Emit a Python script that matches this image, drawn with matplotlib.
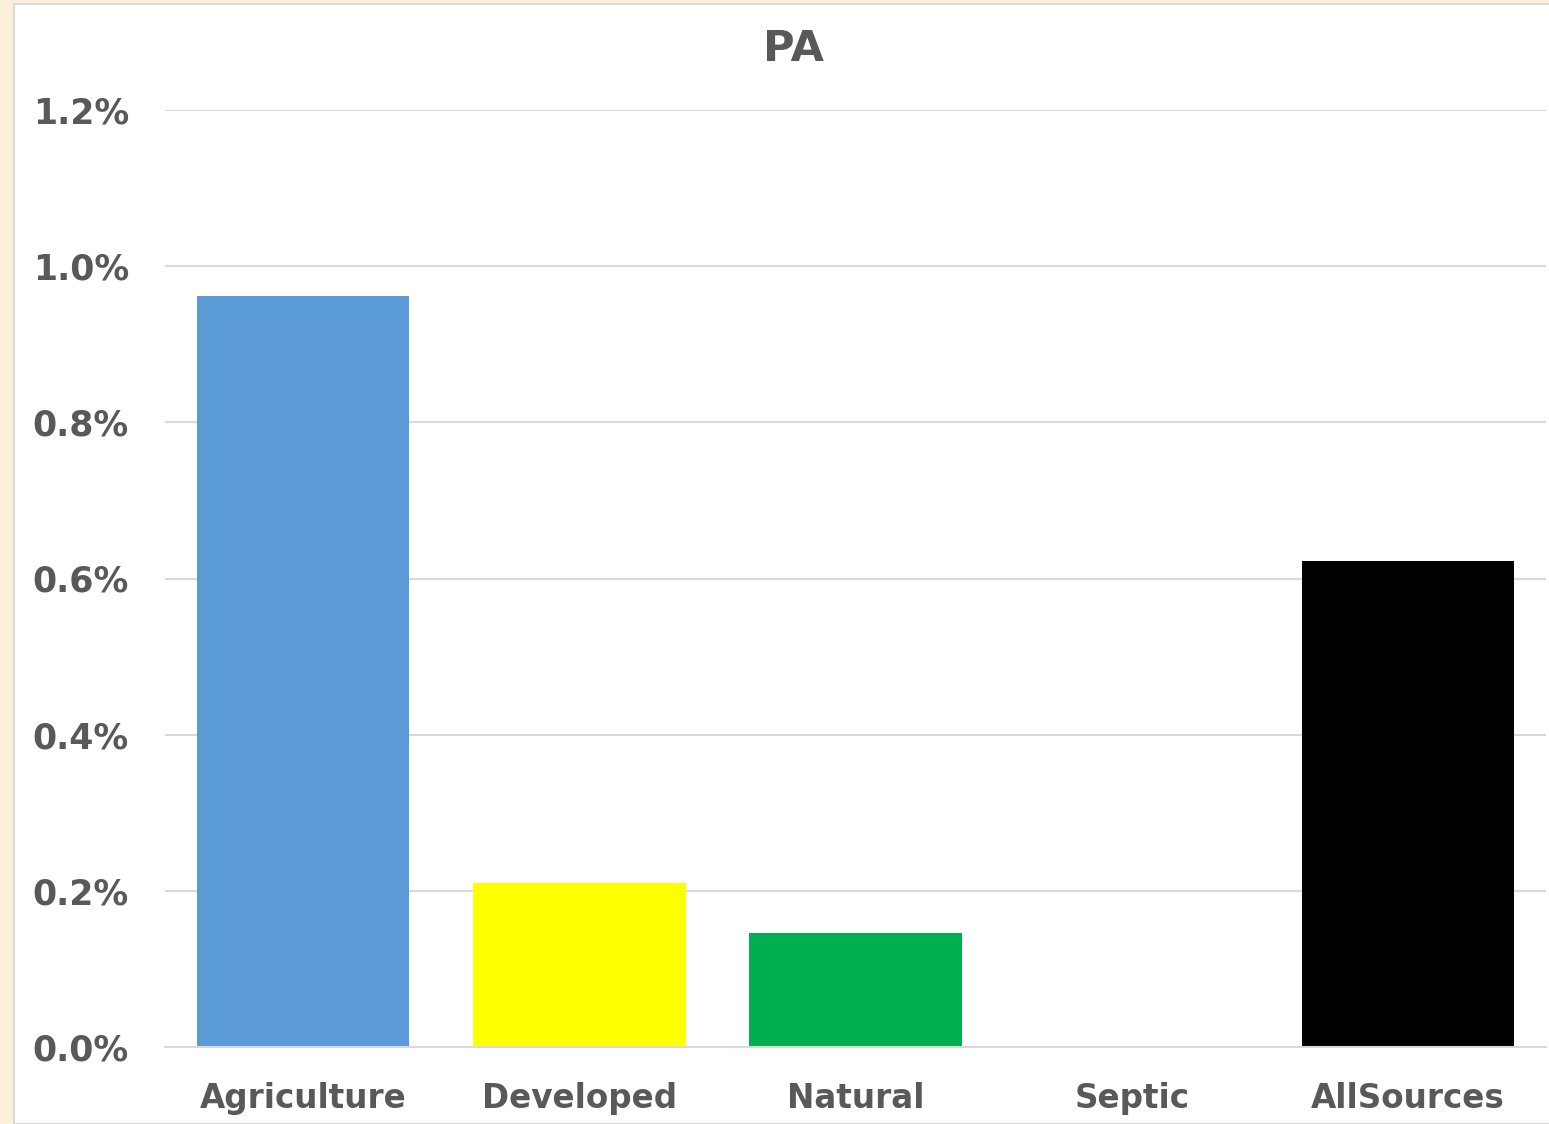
import matplotlib.pyplot as plt
from matplotlib.patches import Rectangle
from matplotlib.ticker import FuncFormatter

categories = ['Agriculture', 'Developed', 'Natural', 'Septic', 'AllSources']
values = [0.962, 0.210, 0.146, 0.0, 0.622]  # percent
colors = ['#5b9bd5', '#ffff00', '#00b050', '#ffffff', '#000000']
yticks = [0.0, 0.2, 0.4, 0.6, 0.8, 1.0, 1.2]

plt.rcParams['font.family'] = 'DejaVu Sans'
plt.rcParams['font.weight'] = 'bold'
text_color = '#595959'

fig = plt.figure(figsize=(15.49, 11.24), dpi=100, facecolor='#fcf1d8')
# white chart area on the beige background
fig.patches.append(Rectangle((14 / 1549, 0), 1, 1 - 4 / 1124, transform=fig.transFigure,
                             facecolor='white', edgecolor='#d9d9d9', linewidth=1.5, zorder=-1))

ax = fig.add_axes([165 / 1549, 1 - 1047 / 1124, (1546 - 165) / 1549, (1047 - 110) / 1124])
ax.set_facecolor('none')
ax.bar(range(len(categories)), values, width=0.77, color=colors, zorder=3)

ax.set_xlim(-0.5, len(categories) - 0.5)
ax.set_ylim(0, 1.2)
ax.set_yticks(yticks)
ax.yaxis.set_major_formatter(FuncFormatter(lambda v, p: f'{v:.1f}%'))
ax.set_xticks(range(len(categories)))
ax.set_xticklabels(categories)
ax.grid(axis='y', color='#d9d9d9', linewidth=1.5, zorder=0)
ax.tick_params(axis='both', length=0, colors=text_color)
ax.tick_params(axis='y', pad=26, labelsize=25)
ax.tick_params(axis='x', pad=25, labelsize=23.5)
for side in ['left', 'right', 'top']:
    ax.spines[side].set_visible(False)
ax.spines['bottom'].set_color('#d9d9d9')
ax.spines['bottom'].set_linewidth(1.5)
ax.spines['bottom'].set_zorder(4)

fig.text(0.512, 1 - 49 / 1124, 'PA', ha='center', va='center', fontsize=31,
         fontweight='bold', color=text_color)

fig.savefig('out.png', dpi=100, facecolor=fig.get_facecolor())
